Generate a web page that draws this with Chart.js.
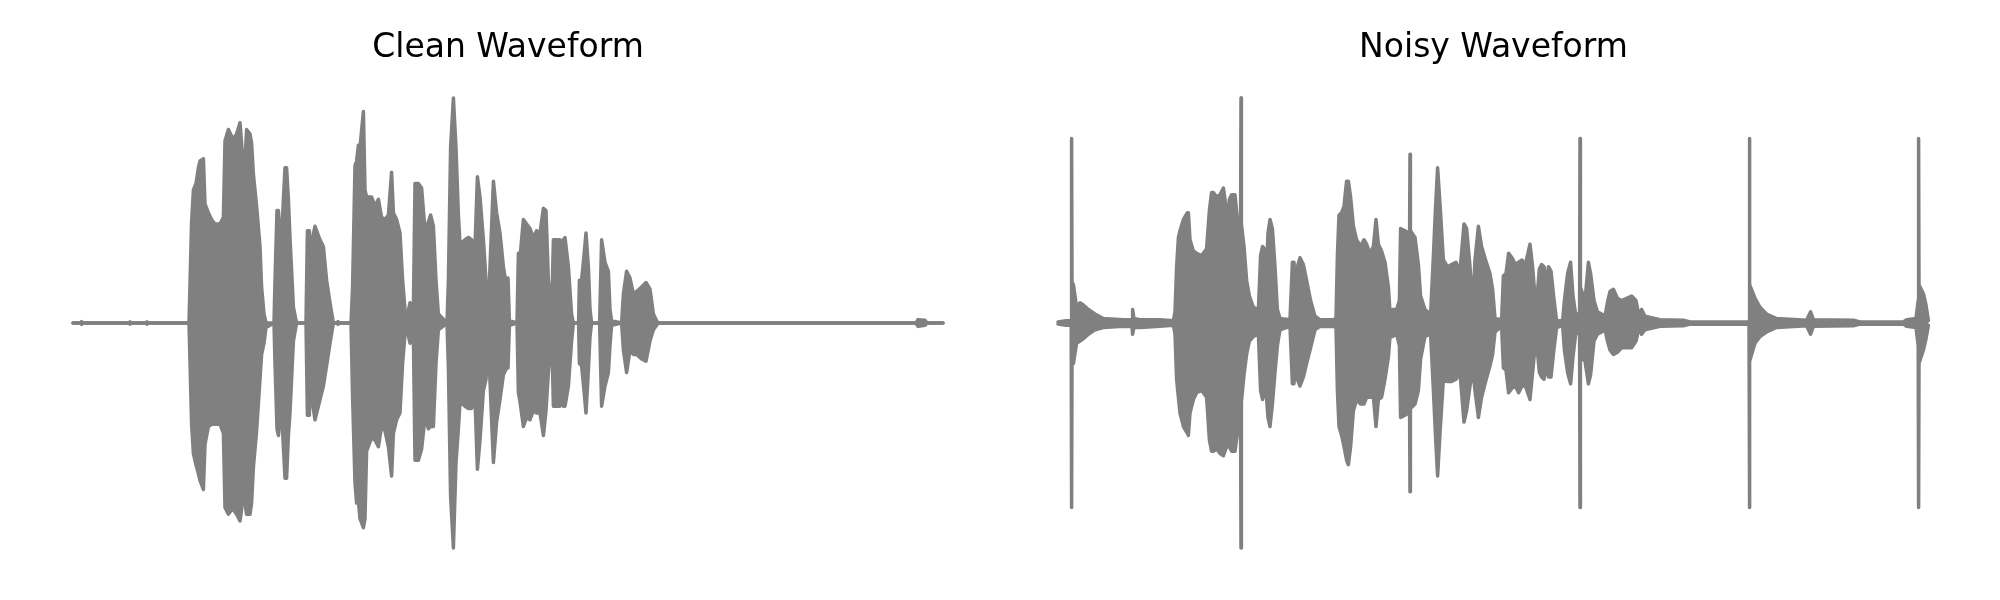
<!DOCTYPE html>
<html lang="en">
<head>
<meta charset="UTF-8">
<title>Clean vs Noisy Waveform</title>
<script src="https://cdn.jsdelivr.net/npm/chart.js"></script>
<style>
  body { margin: 0; background: #fff; }
  .row { display: flex; width: 2000px; height: 600px; }
  canvas { display: block; }
</style>
</head>
<body>
<div class="row">
  <canvas id="clean" width="1000" height="600"></canvas>
  <canvas id="noisy" width="1000" height="600"></canvas>
</div>
<script>
// titles of the two panels
const titles = ['Clean Waveform', 'Noisy Waveform'];

// clip length in ms for each panel
const durations = [4350, 4355];

// envelope: [time ms, upper amplitude, lower amplitude]
const cleanWave = [
  [0,0,0],[38,0,0],[43,0.006,-0.006],[48,0,0],[278,0,0],[285,0.005,-0.005],[292,0,0],
  [366,0,0],[370,0.005,-0.005],[375,0,0],[580,0,0],[593,0.45,-0.45],[602,0.59,-0.58],
  [615,0.62,-0.63],[627,0.69,-0.67],[635,0.72,-0.70],[652,0.73,-0.74],[660,0.53,-0.54],
  [677,0.49,-0.46],[693,0.46,-0.45],[710,0.44,-0.45],[735,0.44,-0.45],[752,0.47,-0.49],
  [760,0.81,-0.82],[777,0.86,-0.85],[793,0.83,-0.83],[802,0.82,-0.83],[818,0.84,-0.85],
  [835,0.89,-0.88],[843,0.80,-0.83],[852,0.68,-0.67],[860,0.71,-0.80],[868,0.86,-0.85],
  [885,0.84,-0.85],[893,0.80,-0.80],[902,0.66,-0.64],[918,0.52,-0.48],[935,0.34,-0.25],
  [943,0.16,-0.14],[955,0.04,-0.09],[965,0,-0.02],[1005,0,0],[1010,0.19,-0.18],
  [1020,0.50,-0.47],[1027,0.50,-0.50],[1035,0.40,-0.42],[1043,0.37,-0.40],[1052,0.55,-0.55],
  [1060,0.69,-0.69],[1068,0.69,-0.69],[1077,0.55,-0.50],[1085,0.38,-0.40],[1102,0.07,-0.08],
  [1118,0,0],[1165,0,0],[1172,0.41,-0.41],[1182,0.41,-0.41],[1185,0.16,-0.18],
  [1198,0.38,-0.36],[1210,0.43,-0.43],[1235,0.37,-0.34],[1252,0.34,-0.28],[1268,0.19,-0.19],
  [1285,0.09,-0.09],[1302,0,0],[1320,0,0],[1325,0.006,-0.006],[1330,0,0],[1390,0,0],
  [1398,0.16,-0.33],[1410,0.70,-0.71],[1418,0.72,-0.80],[1427,0.79,-0.79],[1435,0.78,-0.87],
  [1452,0.94,-0.91],[1460,0.59,-0.87],[1468,0.56,-0.57],[1493,0.56,-0.51],[1510,0.52,-0.52],
  [1527,0.55,-0.55],[1543,0.47,-0.46],[1560,0.46,-0.48],[1577,0.48,-0.55],[1593,0.67,-0.68],
  [1602,0.49,-0.49],[1618,0.46,-0.43],[1635,0.40,-0.40],[1648,0.19,-0.18],[1660,0.06,-0.05],
  [1668,0.02,-0.02],[1685,0.09,-0.09],[1702,0.06,-0.07],[1710,0.62,-0.61],[1727,0.62,-0.61],
  [1743,0.60,-0.56],[1760,0.41,-0.42],[1777,0.45,-0.47],[1788,0.48,-0.46],[1802,0.43,-0.46],
  [1815,0.19,-0.18],[1827,0.04,-0.03],[1870,0,0],[1877,0.19,-0.20],[1888,0.78,-0.77],
  [1902,1.00,-1.00],[1915,0.78,-0.62],[1927,0.48,-0.47],[1935,0.35,-0.35],[1960,0.37,-0.37],
  [1977,0.38,-0.38],[1993,0.37,-0.38],[2010,0.34,-0.34],[2022,0.65,-0.65],[2035,0.56,-0.52],
  [2052,0.37,-0.30],[2065,0.19,-0.25],[2077,0.06,-0.09],[2085,0.25,-0.26],[2102,0.63,-0.62],
  [2118,0.49,-0.44],[2135,0.40,-0.34],[2152,0.25,-0.23],[2168,0.16,-0.20],[2175,0.20,-0.20],
  [2182,0.01,-0.01],[2220,0,0],[2227,0.31,-0.31],[2235,0.29,-0.35],[2252,0.46,-0.46],
  [2268,0.44,-0.42],[2285,0.42,-0.43],[2302,0.38,-0.39],[2318,0.41,-0.40],[2335,0.40,-0.40],
  [2352,0.51,-0.50],[2365,0.50,-0.39],[2377,0.19,-0.22],[2393,0.03,-0.03],[2402,0.37,-0.37],
  [2418,0.37,-0.37],[2435,0.37,-0.37],[2443,0.25,-0.25],[2452,0.37,-0.37],[2460,0.38,-0.37],
  [2477,0.25,-0.28],[2493,0.04,-0.08],[2502,0,0],[2528,0,0],[2532,0.19,-0.18],
  [2543,0.19,-0.19],[2555,0.30,-0.30],[2565,0.40,-0.40],[2577,0.25,-0.21],[2585,0.06,-0.06],
  [2593,0,0],[2633,0,0],[2643,0.37,-0.37],[2660,0.27,-0.28],[2677,0.23,-0.22],
  [2685,0.06,-0.10],[2693,0.01,-0.01],[2743,0,0],[2752,0.13,-0.12],[2768,0.23,-0.22],
  [2785,0.20,-0.12],[2802,0.13,-0.14],[2818,0.14,-0.14],[2843,0.16,-0.16],[2865,0.18,-0.17],
  [2885,0.15,-0.08],[2902,0.04,-0.03],[2918,0.01,-0.01],[2927,0,0],[4215,0,0],
  [4225,0.015,-0.015],[4260,0.012,-0.01],[4270,0,0],[4350,0,0]
];

const noisyWave = [
  [0,0.005,-0.005],[40,0.01,-0.01],[66,0.01,-0.01],[68,0.82,-0.82],[70,0.18,-0.17],
  [77,0.17,-0.18],[93,0.07,-0.09],[110,0.09,-0.08],[127,0.08,-0.07],[152,0.06,-0.05],
  [185,0.04,-0.03],[227,0.02,-0.02],[327,0.015,-0.015],[370,0.015,-0.015],[373,0.06,-0.05],
  [380,0.02,-0.02],[410,0.015,-0.02],[510,0.015,-0.015],[577,0.01,-0.01],[585,0.05,-0.05],
  [593,0.25,-0.25],[602,0.38,-0.33],[610,0.41,-0.40],[627,0.46,-0.46],[647,0.49,-0.49],
  [652,0.49,-0.50],[660,0.37,-0.40],[677,0.32,-0.34],[693,0.31,-0.31],[718,0.30,-0.30],
  [743,0.33,-0.33],[757,0.50,-0.52],[768,0.58,-0.57],[777,0.58,-0.57],[793,0.56,-0.56],
  [810,0.57,-0.58],[827,0.60,-0.59],[835,0.55,-0.57],[843,0.45,-0.55],[857,0.55,-0.55],
  [868,0.57,-0.57],[885,0.57,-0.57],[897,0.46,-0.49],[913,0.45,-0.45],[915,1.00,-1.00],
  [917,0.44,-0.35],[930,0.34,-0.23],[943,0.19,-0.14],[957,0.12,-0.08],[977,0.07,-0.06],
  [1002,0.06,-0.05],[1013,0.30,-0.30],[1023,0.34,-0.34],[1032,0.33,-0.30],[1040,0.19,-0.30],
  [1050,0.40,-0.42],[1060,0.46,-0.46],[1072,0.42,-0.36],[1085,0.25,-0.22],[1097,0.06,-0.10],
  [1110,0.02,-0.03],[1160,0.015,-0.015],[1172,0.27,-0.27],[1180,0.27,-0.27],[1187,0.14,-0.18],
  [1197,0.25,-0.25],[1210,0.29,-0.28],[1227,0.26,-0.24],[1243,0.19,-0.18],[1263,0.10,-0.11],
  [1285,0.03,-0.03],[1310,0.015,-0.015],[1377,0.015,-0.015],[1390,0.02,-0.02],[1397,0.30,-0.30],
  [1405,0.48,-0.46],[1418,0.49,-0.50],[1430,0.52,-0.55],[1443,0.63,-0.61],[1452,0.63,-0.63],
  [1463,0.56,-0.55],[1477,0.43,-0.39],[1493,0.37,-0.34],[1513,0.34,-0.36],[1530,0.37,-0.36],
  [1543,0.35,-0.33],[1560,0.31,-0.33],[1577,0.34,-0.33],[1590,0.46,-0.46],[1602,0.35,-0.34],
  [1618,0.32,-0.33],[1635,0.27,-0.25],[1652,0.16,-0.15],[1660,0.05,-0.06],[1673,0.06,-0.06],
  [1693,0.06,-0.05],[1707,0.10,-0.10],[1713,0.42,-0.42],[1735,0.41,-0.41],[1752,0.40,-0.40],
  [1758,0.40,-0.40],[1760,0.75,-0.75],[1762,0.41,-0.38],[1785,0.38,-0.36],[1802,0.26,-0.30],
  [1813,0.12,-0.16],[1835,0.06,-0.06],[1863,0.04,-0.05],[1877,0.30,-0.30],[1888,0.52,-0.51],
  [1898,0.69,-0.68],[1910,0.53,-0.49],[1927,0.28,-0.25],[1947,0.25,-0.26],[1968,0.26,-0.26],
  [1990,0.27,-0.25],[2010,0.23,-0.22],[2030,0.44,-0.44],[2043,0.42,-0.39],[2060,0.25,-0.28],
  [2073,0.07,-0.20],[2085,0.28,-0.30],[2102,0.43,-0.42],[2118,0.34,-0.33],[2138,0.28,-0.26],
  [2160,0.22,-0.19],[2173,0.15,-0.14],[2185,0.02,-0.04],[2218,0.015,-0.015],[2227,0.21,-0.20],
  [2240,0.22,-0.21],[2253,0.31,-0.31],[2270,0.29,-0.29],[2287,0.26,-0.28],[2303,0.27,-0.31],
  [2320,0.28,-0.28],[2337,0.26,-0.28],[2360,0.35,-0.34],[2373,0.25,-0.22],[2390,0.06,-0.06],
  [2407,0.24,-0.22],[2418,0.26,-0.24],[2430,0.25,-0.25],[2440,0.16,-0.18],[2452,0.25,-0.24],
  [2465,0.23,-0.24],[2478,0.12,-0.13],[2493,0.01,-0.02],[2523,0.01,-0.01],[2532,0.10,-0.12],
  [2548,0.22,-0.22],[2563,0.27,-0.27],[2575,0.12,-0.15],[2588,0.04,-0.05],[2608,0.04,-0.04],
  [2610,0.82,-0.82],[2612,0.16,-0.15],[2635,0.10,-0.17],[2652,0.27,-0.27],[2663,0.22,-0.23],
  [2680,0.10,-0.08],[2697,0.05,-0.05],[2718,0.04,-0.04],[2735,0.03,-0.03],[2747,0.09,-0.08],
  [2760,0.14,-0.12],[2777,0.15,-0.14],[2797,0.11,-0.13],[2818,0.10,-0.11],[2843,0.11,-0.11],
  [2868,0.12,-0.11],[2890,0.10,-0.08],[2905,0.03,-0.02],[2918,0.06,-0.05],[2935,0.03,-0.03],
  [3010,0.015,-0.015],[3127,0.012,-0.012],[3160,0.005,-0.005],[3455,0.005,-0.005],[3457,0.82,-0.82],
  [3459,0.17,-0.17],[3485,0.11,-0.09],[3510,0.07,-0.06],[3543,0.04,-0.04],[3593,0.02,-0.02],
  [3743,0.012,-0.012],[3763,0.05,-0.05],[3777,0.015,-0.015],[3977,0.012,-0.012],[4010,0.005,-0.005],
  [4227,0.005,-0.005],[4243,0.015,-0.015],[4290,0.02,-0.02],[4301,0.10,-0.10],[4303,0.82,-0.82],
  [4305,0.17,-0.18],[4327,0.13,-0.12],[4340,0.08,-0.07],[4352,0.01,-0.01]
];

const grey = '#808080';

function waveChart(id, title, wave, maxT, padLeft, padRight) {
  const line = {
    borderColor: grey,
    backgroundColor: grey,
    borderWidth: 3.5,
    pointRadius: 0,
    tension: 0,
    borderJoinStyle: 'round',
    borderCapStyle: 'round',
    clip: false
  };
  new Chart(document.getElementById(id), {
    type: 'line',
    data: {
      datasets: [
        Object.assign({ data: wave.map(p => ({ x: p[0], y: p[1] })), fill: '+1' }, line),
        Object.assign({ data: wave.map(p => ({ x: p[0], y: p[2] })), fill: false }, line)
      ]
    },
    options: {
      responsive: false,
      animation: false,
      events: [],
      layout: { padding: { left: padLeft, right: padRight, top: 0, bottom: 52 } },
      plugins: {
        legend: { display: false },
        tooltip: { enabled: false },
        title: {
          display: true,
          text: title,
          color: '#000',
          font: { family: 'DejaVu Sans', size: 33, weight: 'normal' },
          padding: { top: 29, bottom: 29.4 }
        }
      },
      scales: {
        x: { type: 'linear', min: 0, max: maxT, display: false },
        y: { min: -1, max: 1, display: false }
      }
    }
  });
}

waveChart('clean', titles[0], cleanWave, durations[0], 73, 57);
waveChart('noisy', titles[1], noisyWave, durations[1], 58, 71);
</script>
</body>
</html>
